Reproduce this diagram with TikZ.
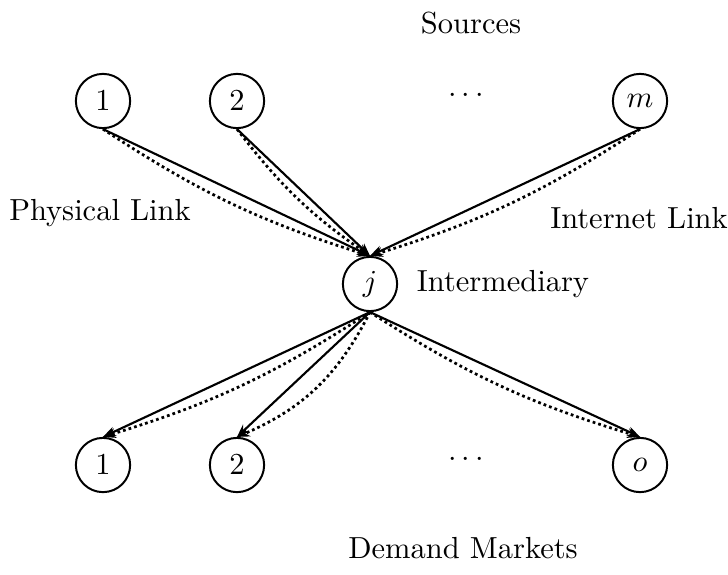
\documentclass[tikz,border=0pt]{standalone}
\usetikzlibrary{arrows.meta}
\begin{document}
\begin{tikzpicture}[x=0.328pt,y=-0.328pt,
  place/.style={circle,draw,line width=0.65pt,minimum size=17.8pt,inner sep=0pt},
  flow/.style={line width=0.7pt,-{Stealth[length=4.2pt,width=3.2pt]}},
  eflow/.style={flow,line width=0.9pt,densely dotted}]
\useasboundingbox (0,0) rectangle (728,574);

% layer of sources
\node[place] (s1) at (103,101) {$1$};
\node[place] (s2) at (237,101) {$2$};
\node (sdots) at (466,96) {$\cdots$};
\node[place] (sm) at (640,101) {$m$};

% intermediary
\node[place] (j) at (370,284) {$j$};

% demand markets
\node[place] (d1) at (103,465) {$1$};
\node[place] (d2) at (237,465) {$2$};
\node (ddots) at (466,460) {$\cdots$};
\node[place] (do) at (640,465) {$o$};

% captions
\node (lsrc) at (471,23) {Sources};
\node (lphys) at (100,213) {Physical Link};
\node (lnet) at (639,218) {Internet Link};
\node (linter) at (503,284) {Intermediary};
\node (ldem) at (463,548) {Demand Markets};

% physical (solid) and internet (dotted) links into the intermediary
\draw[flow] (s1.south) -- (j.north);
\draw[eflow] (s1.south) to[bend right=8] (j.north);
\draw[flow] (s2.south) -- (j.north);
\draw[eflow] (s2.south) to[bend right=9] (j.north);
\draw[flow] (sm.south) -- (j.north);
\draw[eflow] (sm.south) to[bend left=8] (j.north);

% links out to the demand markets
\draw[flow] (j.south) -- (d1.north);
\draw[eflow] (j.south) to[bend left=8] (d1.north);
\draw[flow] (j.south) -- (d2.north);
\draw[eflow] (j.south) to[bend left=20] (d2.north);
\draw[flow] (j.south) -- (do.north);
\draw[eflow] (j.south) to[bend right=8] (do.north);
\end{tikzpicture}
\end{document}
